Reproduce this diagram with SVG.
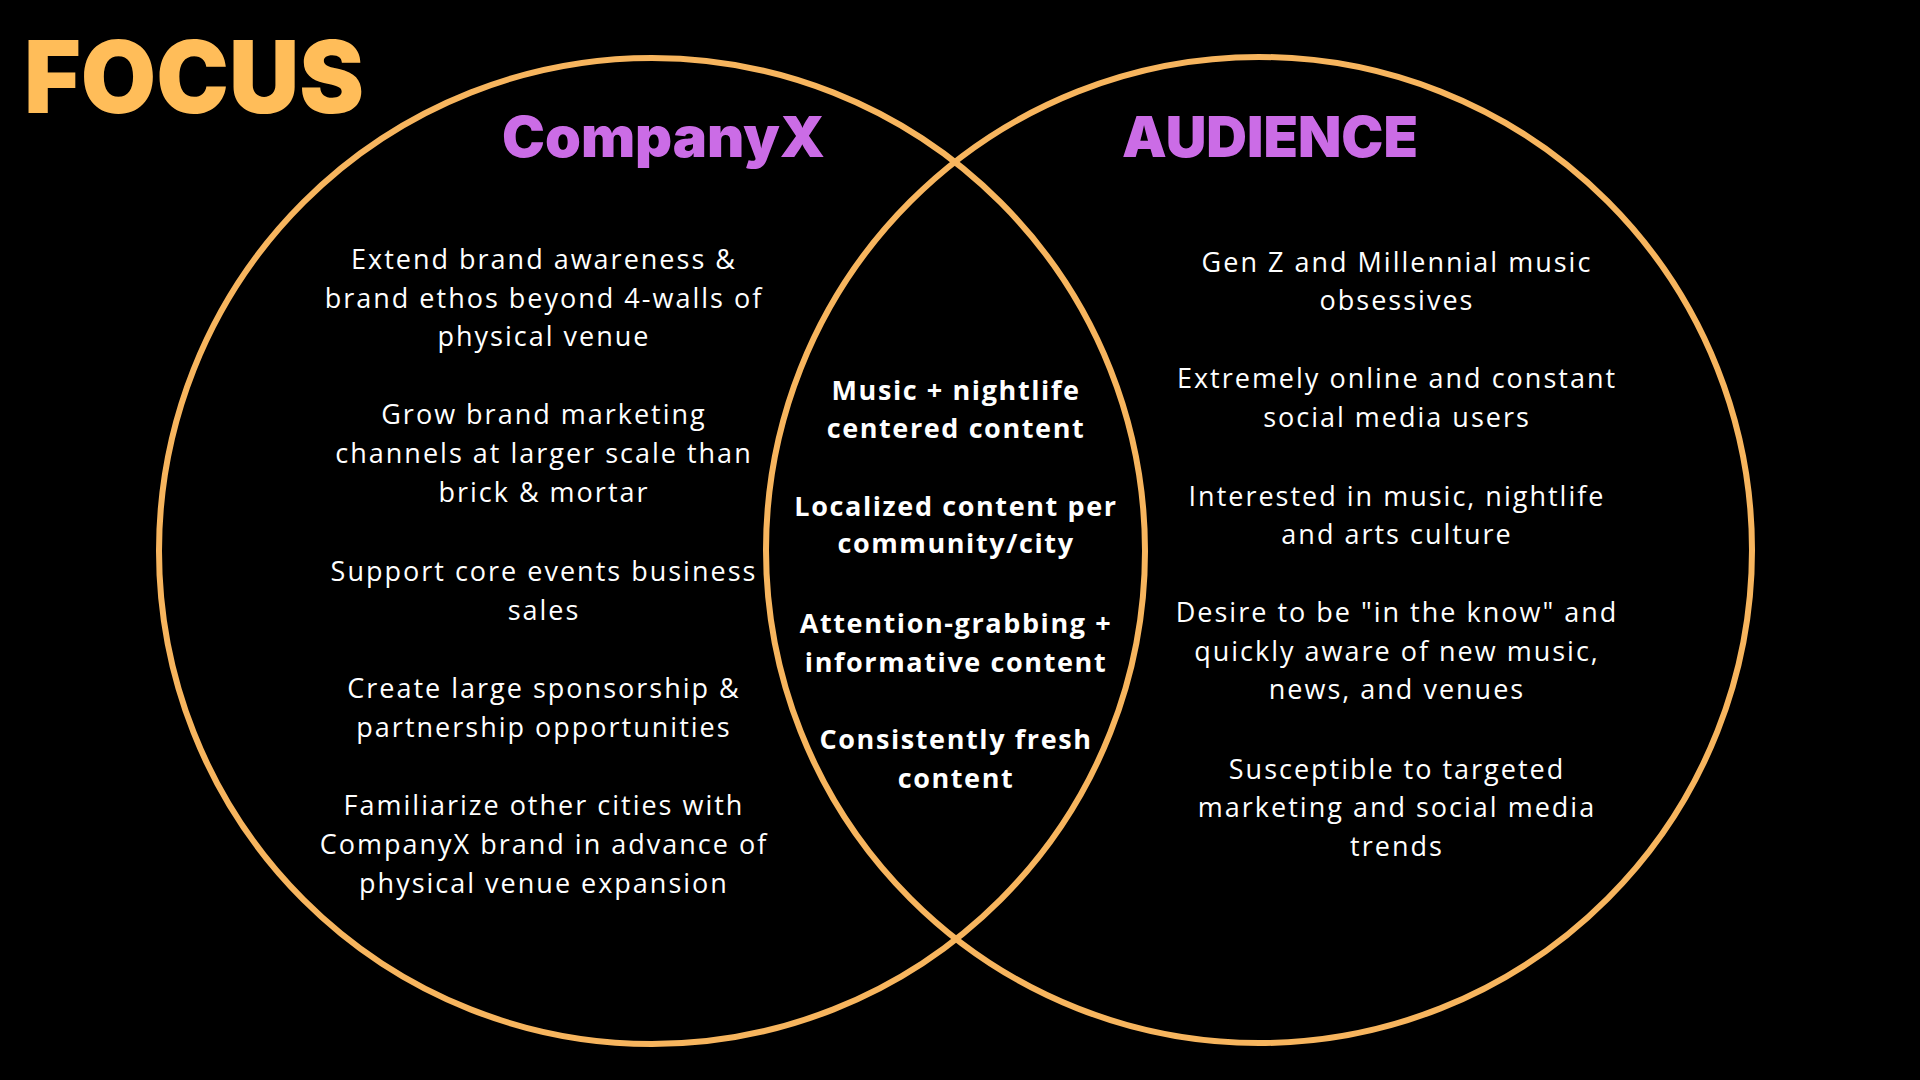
<svg xmlns="http://www.w3.org/2000/svg" width="1920" height="1080" viewBox="0 0 1920 1080">
<style>
.bg{fill:#000}
.ring{fill:none;stroke:#F7B55E;stroke-width:6}
.title{font-family:Inter,"Open Sans","Liberation Sans",sans-serif;font-weight:900}
.body{font-family:"Open Sans","Liberation Sans",sans-serif;font-size:27px;letter-spacing:2px;fill:#fff;text-anchor:middle}
.bold{font-family:"Open Sans","Liberation Sans",sans-serif;font-size:27px;font-weight:700;letter-spacing:1.6px;fill:#fff;text-anchor:middle}
</style>
<rect class="bg" x="0" y="0" width="1920" height="1080"/>
<g id="circles">
<circle id="circle-companyx" class="ring" cx="652" cy="551" r="493"/>
<circle id="circle-audience" class="ring" cx="1259" cy="550" r="493"/>
</g>
<g id="heading">
<text class="title" x="24" y="113" font-size="100" fill="#FFBD59" textLength="340" lengthAdjust="spacingAndGlyphs">FOCUS</text>
</g>
<g id="label-companyx">
<text class="title" x="502" y="157" font-size="56" fill="#CB6CE6" textLength="323" lengthAdjust="spacingAndGlyphs">CompanyX</text>
</g>
<g id="label-audience">
<text class="title" x="1122" y="157" font-size="56" fill="#CB6CE6" textLength="296" lengthAdjust="spacingAndGlyphs">AUDIENCE</text>
</g>
<g id="companyx-items">
<text class="body" x="544" y="269">Extend brand awareness &amp;</text>
<text class="body" x="544" y="308">brand ethos beyond 4-walls of</text>
<text class="body" x="544" y="346">physical venue</text>
<text class="body" x="544" y="424">Grow brand marketing</text>
<text class="body" x="544" y="463">channels at larger scale than</text>
<text class="body" x="544" y="502">brick &amp; mortar</text>
<text class="body" x="544" y="581">Support core events business</text>
<text class="body" x="544" y="620">sales</text>
<text class="body" x="544" y="698">Create large sponsorship &amp;</text>
<text class="body" x="544" y="737">partnership opportunities</text>
<text class="body" x="544" y="815">Familiarize other cities with</text>
<text class="body" x="544" y="854">CompanyX brand in advance of</text>
<text class="body" x="544" y="893">physical venue expansion</text>
</g>
<g id="overlap-items">
<text class="bold" x="956" y="400">Music + nightlife</text>
<text class="bold" x="956" y="438">centered content</text>
<text class="bold" x="956" y="516">Localized content per</text>
<text class="bold" x="956" y="553">community/city</text>
<text class="bold" x="956" y="633">Attention-grabbing +</text>
<text class="bold" x="956" y="672">informative content</text>
<text class="bold" x="956" y="749">Consistently fresh</text>
<text class="bold" x="956" y="788">content</text>
</g>
<g id="audience-items">
<text class="body" x="1397" y="272">Gen Z and Millennial music</text>
<text class="body" x="1397" y="310">obsessives</text>
<text class="body" x="1397" y="388">Extremely online and constant</text>
<text class="body" x="1397" y="427">social media users</text>
<text class="body" x="1397" y="506">Interested in music, nightlife</text>
<text class="body" x="1397" y="544">and arts culture</text>
<text class="body" x="1397" y="622">Desire to be "in the know" and</text>
<text class="body" x="1397" y="661">quickly aware of new music,</text>
<text class="body" x="1397" y="699">news, and venues</text>
<text class="body" x="1397" y="779">Susceptible to targeted</text>
<text class="body" x="1397" y="817">marketing and social media</text>
<text class="body" x="1397" y="856">trends</text>
</g>
</svg>
